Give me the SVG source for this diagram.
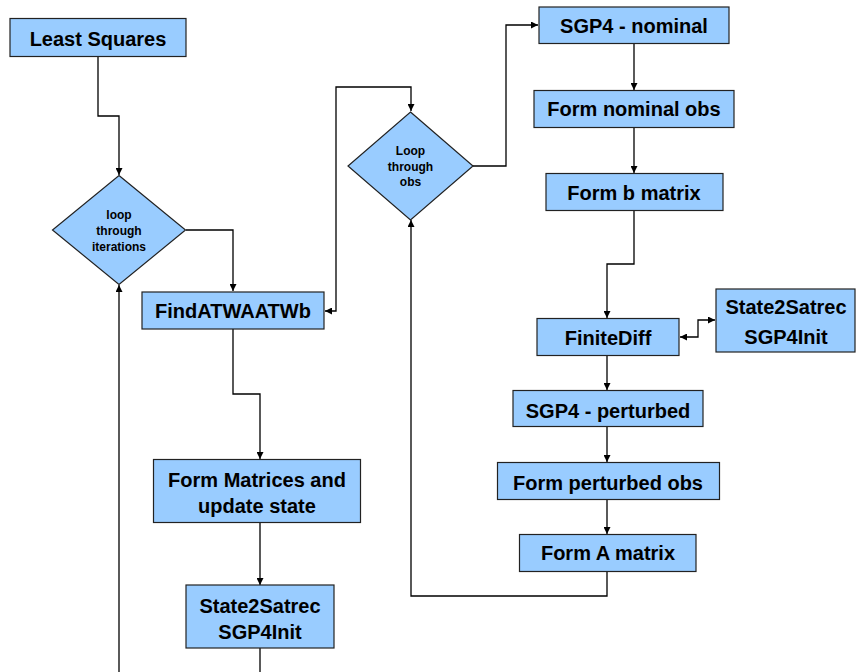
<svg xmlns="http://www.w3.org/2000/svg" width="856" height="672" viewBox="0 0 856 672">
<defs>
<marker id="ah" viewBox="0 0 10 10" refX="10" refY="5" markerWidth="7" markerHeight="7" markerUnits="userSpaceOnUse" orient="auto-start-reverse">
<path d="M0,0 L10,5 L0,10 z" fill="#000"/>
</marker>
<style>
.box{fill:#99CCFF;stroke:#222;stroke-width:1.2}
.t{font-family:"Liberation Sans",Arial,sans-serif;font-weight:bold;font-size:20px;fill:#000;text-anchor:middle}
.s{font-family:"Liberation Sans",Arial,sans-serif;font-weight:bold;font-size:12px;fill:#000;text-anchor:middle}
.c{fill:none;stroke:#000;stroke-width:1.3}
</style>
</defs>
<rect width="856" height="672" fill="#fff"/>
<g id="connectors">
<path class="c" d="M98,57 V116 H119 V175" marker-end="url(#ah)"/>
<path class="c" d="M186,230 H233 V291" marker-end="url(#ah)"/>
<path class="c" d="M325,311 H336 V87 H411 V111" marker-start="url(#ah)" marker-end="url(#ah)"/>
<path class="c" d="M473,166 H506 V25 H538" marker-end="url(#ah)"/>
<path class="c" d="M634,44 V90" marker-end="url(#ah)"/>
<path class="c" d="M634,127 V173" marker-end="url(#ah)"/>
<path class="c" d="M634,211 V264 H607 V318" marker-end="url(#ah)"/>
<path class="c" d="M680,337 H698 V320 H715" marker-start="url(#ah)" marker-end="url(#ah)"/>
<path class="c" d="M607,356 V390" marker-end="url(#ah)"/>
<path class="c" d="M607,427 V462" marker-end="url(#ah)"/>
<path class="c" d="M607,499 V534" marker-end="url(#ah)"/>
<path class="c" d="M607,572 V596 H411 V220" marker-end="url(#ah)"/>
<path class="c" d="M233,329 V394 H260 V459" marker-end="url(#ah)"/>
<path class="c" d="M260,523 V585" marker-end="url(#ah)"/>
<path class="c" d="M260,648 V672"/>
<path class="c" d="M119,672 V285" marker-end="url(#ah)"/>
</g>
<g id="least-squares">
<rect class="box" x="10" y="18.5" width="176" height="38"/>
<text class="t" x="98" y="46">Least Squares</text>
</g>
<g id="loop-iterations">
<polygon class="box" points="119,175.5 185.5,230 119,284.5 52.5,230"/>
<text class="s" x="119" y="219">loop</text>
<text class="s" x="119" y="235">through</text>
<text class="s" x="119" y="251">iterations</text>
</g>
<g id="find-atwaatwb">
<rect class="box" x="142" y="292" width="182" height="37"/>
<text class="t" x="233" y="318">FindATWAATWb</text>
</g>
<g id="form-matrices">
<rect class="box" x="153.5" y="459.5" width="207" height="63"/>
<text class="t" x="257" y="487">Form Matrices and</text>
<text class="t" x="257" y="513">update state</text>
</g>
<g id="state2satrec-left">
<rect class="box" x="186" y="585" width="148" height="63"/>
<text class="t" x="260" y="613">State2Satrec</text>
<text class="t" x="260" y="639">SGP4Init</text>
</g>
<g id="loop-obs">
<polygon class="box" points="410.5,112 473,166 410.5,220 348,166"/>
<text class="s" x="410.5" y="155">Loop</text>
<text class="s" x="410.5" y="170.5">through</text>
<text class="s" x="410.5" y="186">obs</text>
</g>
<g id="sgp4-nominal">
<rect class="box" x="539" y="7" width="190" height="36.5"/>
<text class="t" x="634" y="33">SGP4 - nominal</text>
</g>
<g id="form-nominal-obs">
<rect class="box" x="534" y="90.5" width="200" height="37"/>
<text class="t" x="634" y="116">Form nominal obs</text>
</g>
<g id="form-b-matrix">
<rect class="box" x="546" y="173.5" width="177" height="37"/>
<text class="t" x="634" y="200">Form b matrix</text>
</g>
<g id="finitediff">
<rect class="box" x="537" y="318.5" width="142" height="37"/>
<text class="t" x="608" y="345">FiniteDiff</text>
</g>
<g id="state2satrec-right">
<rect class="box" x="716" y="289" width="139" height="63"/>
<text class="t" x="786" y="314">State2Satrec</text>
<text class="t" x="786" y="344">SGP4Init</text>
</g>
<g id="sgp4-perturbed">
<rect class="box" x="513" y="390.5" width="190" height="36"/>
<text class="t" x="608" y="418">SGP4 - perturbed</text>
</g>
<g id="form-perturbed-obs">
<rect class="box" x="497.5" y="462.5" width="222" height="37"/>
<text class="t" x="608" y="490">Form perturbed obs</text>
</g>
<g id="form-a-matrix">
<rect class="box" x="519.5" y="534.5" width="176.5" height="37"/>
<text class="t" x="608" y="560">Form A matrix</text>
</g>
</svg>
